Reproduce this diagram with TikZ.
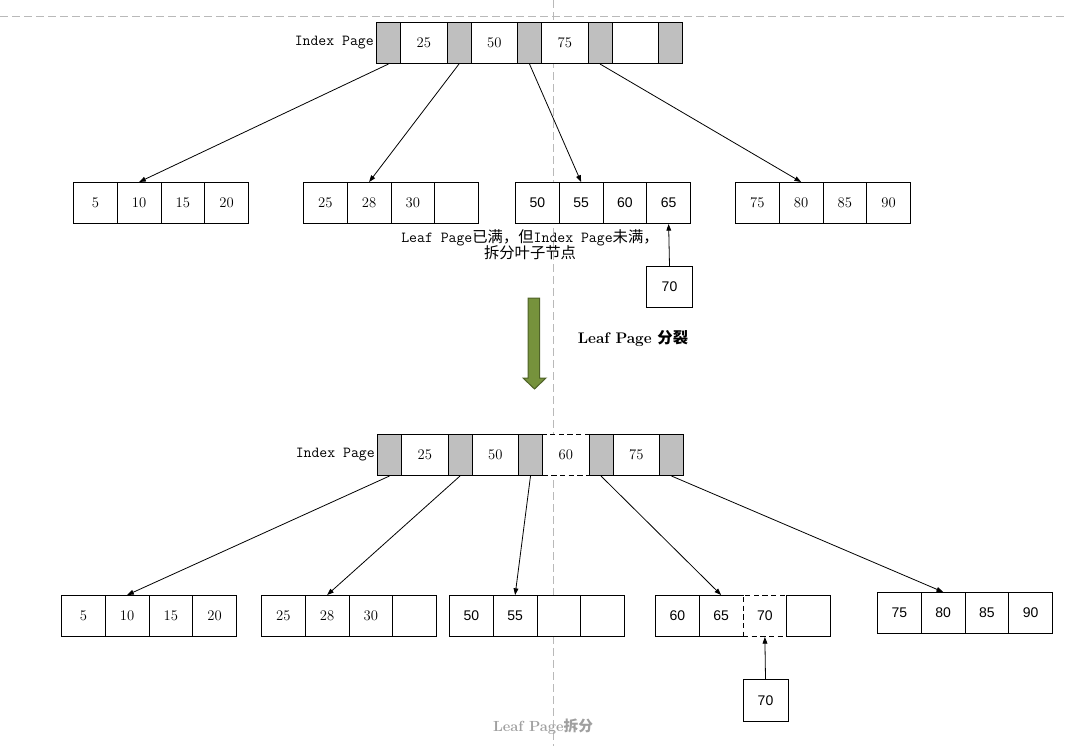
\documentclass[tikz,border=0pt]{standalone}
\usepackage{fontspec}
\newfontfamily\cjk{Noto Sans CJK SC}
\newfontfamily\sansdig{Liberation Sans}
\usetikzlibrary{arrows.meta}
\definecolor{cellgray}{RGB}{191,191,191}
\definecolor{guidegray}{RGB}{185,185,185}
\definecolor{arrowgreen}{RGB}{118,146,60}
\definecolor{arrowdark}{RGB}{79,98,40}
\definecolor{capgray}{RGB}{160,160,160}
\tikzset{
  cell/.style={draw, fill=white, line width=0.75pt, minimum width=32.8125pt, minimum height=30.75pt,
    inner sep=0pt, anchor=north west, font=\fontsize{11}{12}\selectfont},
  sansnum/.style={font=\sansdig\fontsize{10.5}{12}\selectfont},
  gcell/.style={cell, fill=cellgray, minimum width=18pt},
  wcell/.style={cell, minimum width=34.875pt},
  dcell/.style={dashed, dash pattern=on 4pt off 2.5pt},
  guide/.style={guidegray, line width=0.75pt, dash pattern=on 6pt off 3pt},
  link/.style={line width=0.6pt, -{Triangle[length=5pt,width=3.6pt]}},
  lbl/.style={font=\ttfamily\fontsize{11.5}{12}\selectfont, inner sep=1.5pt},
}
\newcommand\leafpage[8]{%
  \node[cell,#8] (#1a) at (#2,#3) {#4};
  \node[cell,#8] (#1b) at (#2+43.75,#3) {#5};
  \node[cell,#8] (#1c) at (#2+87.5,#3) {#6};
  \node[cell,#8] (#1d) at (#2+131.25,#3) {#7};
}
\begin{document}
\begin{tikzpicture}[x=0.75pt,y=-0.75pt]
\useasboundingbox (0,0) rectangle (1066,746);
% guide lines
\draw[guide] (0,16) -- (1066,16);
\draw[guide] (553,0) -- (553,746);

% ---------- top index page ----------
\node[gcell] (tg1) at (376,22) {};
\node[wcell] (tw1) at (400,22) {25};
\node[gcell] (tg2) at (446.5,22) {};
\node[wcell] (tw2) at (470.5,22) {50};
\node[gcell] (tg3) at (517,22) {};
\node[wcell] (tw3) at (541,22) {75};
\node[gcell] (tg4) at (587.5,22) {};
\node[wcell] (tw4) at (611.5,22) {};
\node[gcell] (tg5) at (658,22) {};
\node[lbl, anchor=east] (tidx) at (tg1.west) {Index Page};

% top leaves
\leafpage{ta}{73}{182}{5}{10}{15}{20}{}
\leafpage{tb}{303}{182}{25}{28}{30}{}{}
\leafpage{tc}{515}{182}{50}{55}{60}{65}{sansnum}
\leafpage{td}{735}{182}{75}{80}{85}{90}{}
\node[cell, sansnum, minimum width=34.5pt] (tn) at (646,266) {70};

\draw[link] (tg1.south) -- (tab.north);
\draw[link] (tg2.south) -- (tbb.north);
\draw[link] (tg3.south) -- (tcb.north);
\draw[link] (tg4.south) -- (tdb.north);
\draw[link] (tn.north) -- (tcd.south);

\node[font=\fontsize{11.5}{14}\selectfont, align=center] (note) at (530,245)
  {{\ttfamily Leaf Page}{\cjk 已满，但}{\ttfamily Index Page}{\cjk 未满，}\\[-2pt]{\cjk 拆分叶子节点}};

% green arrow
\draw[fill=arrowgreen, draw=arrowdark, line width=0.75pt]
  (528,298) -- (539.5,298) -- (539.5,378) -- (546,378) -- (534.5,389) -- (523,378) -- (528,378) -- cycle;
\node[font=\bfseries\fontsize{11.5}{12}\selectfont] (split) at (633,339) {Leaf Page {\cjk\bfseries 分裂}};

% ---------- bottom index page ----------
\node[wcell, dcell] (bw3) at (542,434) {60};
\node[gcell] (bg1) at (377,434) {};
\node[wcell] (bw1) at (401,434) {25};
\node[gcell] (bg2) at (447.5,434) {};
\node[wcell] (bw2) at (471.5,434) {50};
\node[gcell] (bg3) at (518,434) {};
\node[gcell] (bg4) at (588.5,434) {};
\node[wcell] (bw4) at (612.5,434) {75};
\node[gcell] (bg5) at (659,434) {};
\node[lbl, anchor=east] (bidx) at (bg1.west) {Index Page};

% bottom leaves
\leafpage{ba}{61}{595}{5}{10}{15}{20}{}
\leafpage{bb}{261}{595}{25}{28}{30}{}{}
\leafpage{bc}{449}{595}{50}{55}{}{}{sansnum}
\node[cell, sansnum] (bda) at (655,595) {60};
\node[cell, sansnum] (bdb) at (698.75,595) {65};
\node[cell, sansnum, dcell] (bdc) at (742.5,595) {70};
\node[cell, fill=none] (bdd) at (786.25,595) {};
\leafpage{be}{877}{592}{75}{80}{85}{90}{sansnum}
\node[cell, sansnum, minimum width=33.75pt, minimum height=31.5pt] (bn) at (742.5,679) {70};

\draw[link] (bg1.south) -- (bab.north);
\draw[link] (bg2.south) -- (bbb.north);
\draw[link] (bg3.south) -- (bcb.north);
\draw[link] (bg4.south) -- (bdb.north);
\draw[link] (bg5.south) -- (beb.north);
\draw[link] (bn.north) -- (bdc.south);

\node[text=capgray, font=\bfseries\fontsize{11}{12}\selectfont] (cap) at (543,727) {Leaf Page{\cjk\bfseries 拆分}};
\end{tikzpicture}
\end{document}
